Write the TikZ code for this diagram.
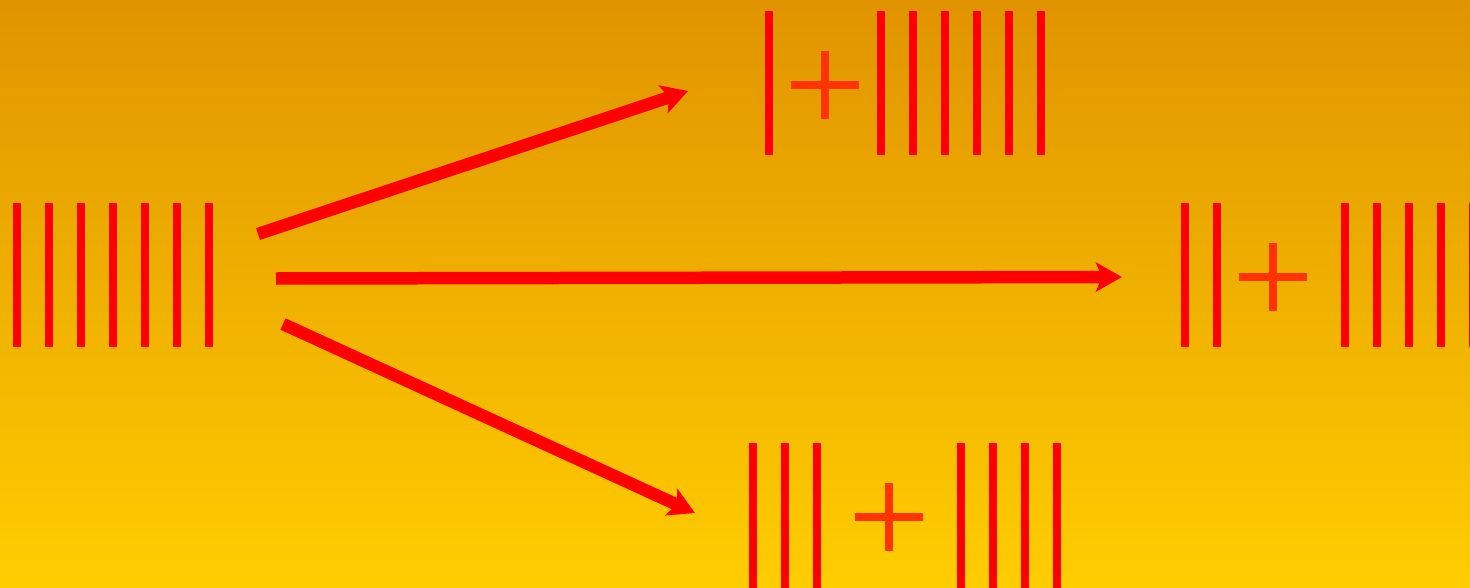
\documentclass[tikz,border=0pt]{standalone}
\usetikzlibrary{arrows.meta}
\definecolor{stickred}{RGB}{255,0,0}
\definecolor{plusred}{RGB}{255,51,0}
\definecolor{skytop}{RGB}{224,148,0}
\definecolor{skybottom}{RGB}{255,205,0}
\begin{document}
\begin{tikzpicture}[
    x=0.02cm, y=-0.02cm,
    stick/.style = {stickred, line width=0.16cm},
    plus/.style = {plusred, line width=0.16cm},
    move/.style = {stickred, line width=0.25cm, -{Stealth[length=0.52cm, width=0.58cm, inset=0.12cm]}}
]
\useasboundingbox (0,0) rectangle (1470,588);
\shade[top color=skytop, bottom color=skybottom] (0,0) rectangle (1470,588);
% seven sticks
\foreach \x in {17,49,...,209} \draw[stick] (\x,203) -- (\x,347);
% one + six
\draw[stick] (769,11) -- (769,155);
\draw[plus] (791,85) -- (859,85) (825,51) -- (825,119);
\foreach \x in {881,913,...,1041} \draw[stick] (\x,11) -- (\x,155);
% two + five
\foreach \x in {1185,1217} \draw[stick] (\x,203) -- (\x,347);
\draw[plus] (1239,277) -- (1307,277) (1273,243) -- (1273,311);
\foreach \x in {1345,1377,...,1473} \draw[stick] (\x,203) -- (\x,347);
% three + four
\foreach \x in {753,785,817} \draw[stick] (\x,443) -- (\x,588);
\draw[plus] (855,517) -- (923,517) (889,483) -- (889,551);
\foreach \x in {961,993,...,1057} \draw[stick] (\x,443) -- (\x,588);
% moves
\coordinate (from1) at (258,234);
\coordinate (to1) at (688,91);
\coordinate (from2) at (276,278.5);
\coordinate (to2) at (1122,277);
\coordinate (from3) at (283,324);
\coordinate (to3) at (695,513);
\draw[move] (from1) -- (to1);
\draw[move] (from2) -- (to2);
\draw[move] (from3) -- (to3);
\end{tikzpicture}
\end{document}
